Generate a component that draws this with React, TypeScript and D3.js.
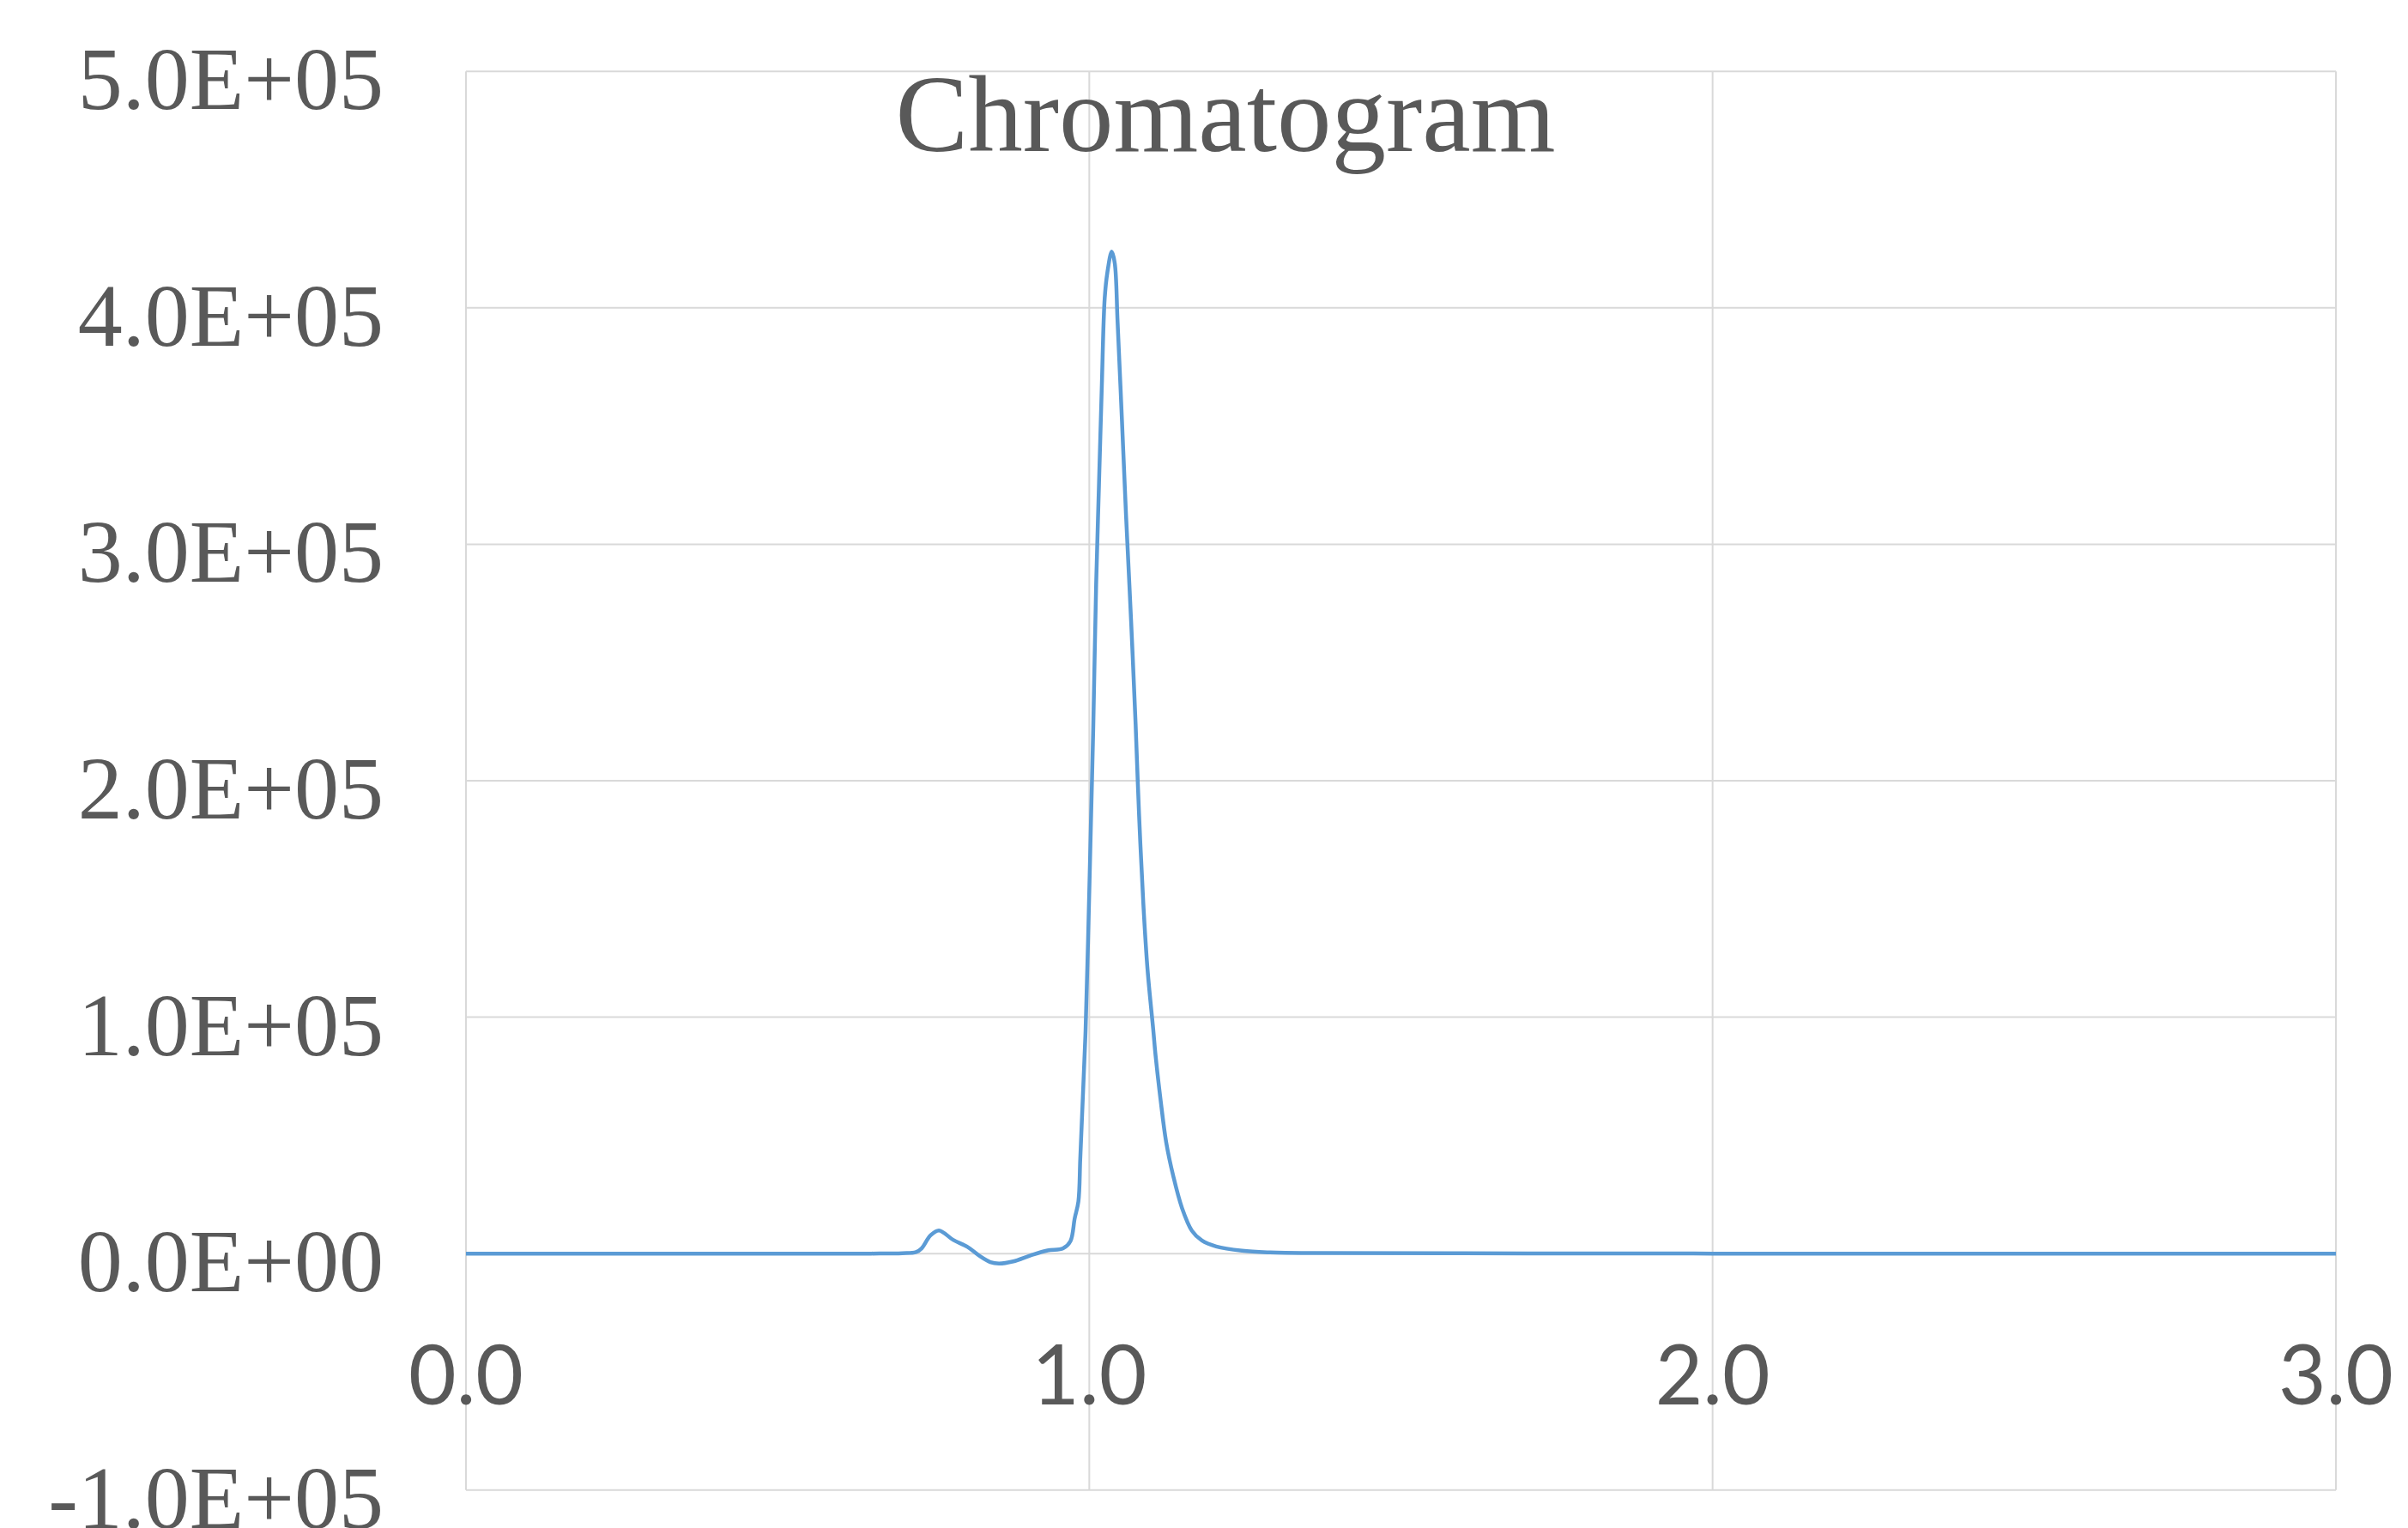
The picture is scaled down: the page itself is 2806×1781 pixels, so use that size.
import * as d3 from "d3"
import React from "react"

// retention time (min) and detector signal
const retentionTime = [
  0, 0.2, 0.4, 0.55, 0.65, 0.7, 0.722, 0.731, 0.745, 0.7587, 0.7815, 0.8046,
  0.823, 0.8412, 0.855, 0.878, 0.9055, 0.933, 0.958, 0.9697, 0.9766, 0.9825,
  0.9855, 0.989, 0.994, 0.998, 1.0027, 1.0063, 1.011, 1.0155, 1.0201, 1.0247,
  1.029, 1.036, 1.0408, 1.0454, 1.0523, 1.059, 1.067, 1.0743, 1.0798, 1.0867,
  1.0935, 1.1025, 1.1064, 1.1142, 1.1233, 1.1348, 1.1486, 1.1646, 1.1807,
  1.2036, 1.245, 1.29, 1.36, 1.6, 2.0, 2.5, 3.0,
]
const intensity = [
  0, 0, 0, 0, 0, 150, 600, 2200, 7600, 9800, 5800, 2800,
  -800, -3600, -4200, -3300, -800, 1300, 2200, 5200, 14900, 22000,
  40000, 62000, 94000, 132000, 183000, 222000, 283000, 325000, 367000, 404000,
  415000, 423800, 419000, 394000, 353000, 312000, 268000, 224000, 186000, 148000,
  120000, 95000, 83600, 65400, 47200, 32700, 19400, 9700, 5500,
  3000, 1200, 500, 200, 100, 0, 0, 0,
]

const xTicks = [0, 1, 2, 3]
const yTicks = [-100000, 0, 100000, 200000, 300000, 400000, 500000]
const title = "Chromatogram"

const sci = (v) => {
  const [m, e] = v.toExponential(1).split("e")
  const sign = e[0] === "-" ? "-" : "+"
  const p = String(Math.abs(+e)).padStart(2, "0")
  return `${m}E${sign}${p}`
}

export default function App() {
  const width = 2806
  const height = 1781
  const left = 543, right = 2722, top = 83.3, bottom = 1736.7

  const x = d3.scaleLinear().domain([0, 3]).range([left, right])
  const y = d3.scaleLinear().domain([-100000, 500000]).range([bottom, top])

  const pts = retentionTime.map((t, i) => [t, intensity[i]])
  const line = d3
    .line()
    .x((d) => x(d[0]))
    .y((d) => y(d[1]))
    .curve(d3.curveCatmullRom.alpha(0.5))

  const textColor = "#595959"
  const grid = "#d9d9d9"
  const serif = "'Liberation Serif', 'Times New Roman', serif"

  return (
    <svg
      width={width}
      height={height}
      style={{ position: "absolute", left: 0, top: 0, background: "#fff" }}
    >
      <rect width={width} height={height} fill="#fff" />
      {yTicks.map((t) => (
        <line key={"h" + t} x1={left} x2={right} y1={y(t)} y2={y(t)} stroke={grid} strokeWidth={2} />
      ))}
      {xTicks.map((t) => (
        <line key={"v" + t} x1={x(t)} x2={x(t)} y1={top} y2={bottom} stroke={grid} strokeWidth={2} />
      ))}
      {yTicks.map((t) => (
        <text
          key={"yl" + t}
          x={447}
          y={y(t) + 44}
          textAnchor="end"
          fontFamily={serif}
          fontSize={104}
          fill={textColor}
        >
          {sci(t)}
        </text>
      ))}
      {xTicks.map((t) => (
        <text
          key={"xl" + t}
          x={x(t)}
          y={1637}
          textAnchor="middle"
          fontFamily="Lato, 'Open Sans', sans-serif"
          fontSize={96}
          fill={textColor}
        >
          {t.toFixed(1)}
        </text>
      ))}
      <text
        x={1428}
        y={176}
        textAnchor="middle"
        fontFamily={serif}
        fontSize={127}
        fill={textColor}
      >
        {title}
      </text>
      <path d={line(pts)} fill="none" stroke="#5b9bd5" strokeWidth={4.5} strokeLinejoin="round" />
    </svg>
  )
}
